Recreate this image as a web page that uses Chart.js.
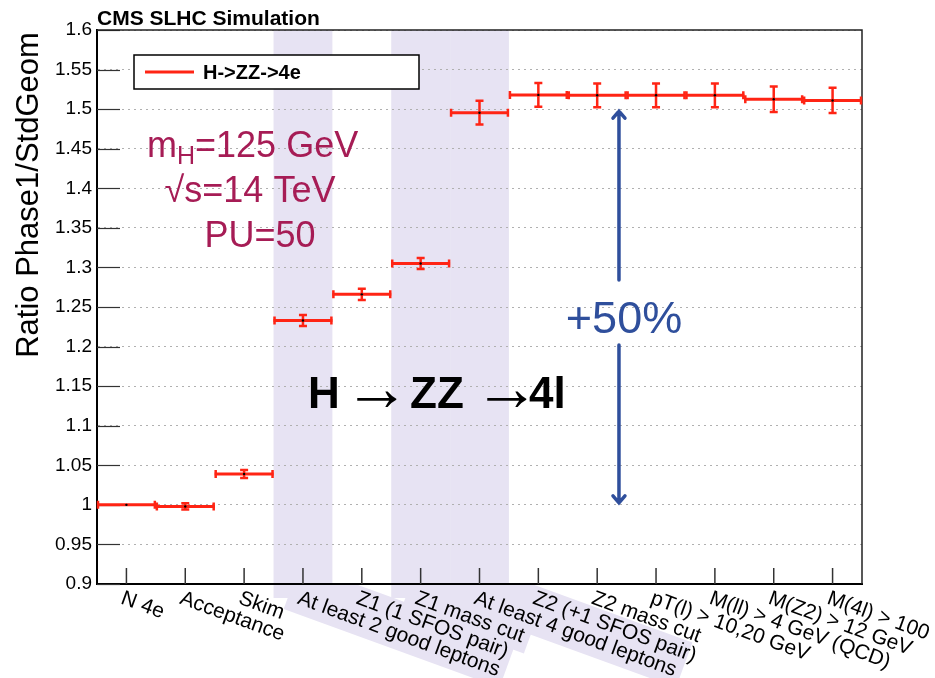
<!DOCTYPE html>
<html>
<head>
<meta charset="utf-8">
<script src="https://cdn.jsdelivr.net/npm/chart.js@4.4.0/dist/chart.umd.min.js"></script>
<style>
  html, body { margin: 0; padding: 0; background: #fff; }
  #wrap { width: 935px; height: 678px; position: relative; }
</style>
</head>
<body>
<div id="wrap"><canvas id="chartRatio"></canvas></div>
<script>
// cut-flow categories (x axis) and the Phase1/StdGeom ratio per cut
const categories = [
  'N 4e', 'Acceptance', 'Skim', 'At least 2 good leptons', 'Z1 (1 SFOS pair)',
  'Z1 mass cut', 'At least 4 good leptons', 'Z2 (+1 SFOS pair)', 'Z2 mass cut',
  'pT(l) > 10,20 GeV', 'M(ll) > 4 GeV (QCD)', 'M(Z2) > 12 GeV', 'M(4l) > 100'
];
const ratio    = [1.000, 0.998, 1.039, 1.233, 1.266, 1.305, 1.4955, 1.518, 1.5175, 1.5175, 1.5175, 1.5125, 1.511];
const ratioErr = [0.000, 0.004, 0.005, 0.007, 0.007, 0.007, 0.015,  0.015, 0.015,  0.015,  0.015,  0.016,  0.016];
const shadedBins = [3, 5, 6];
const arrowRange = [1.0, 1.5];

(function () {
  const red = '#ff2414';
  const band = '#e7e3f3';
  const font = '"Liberation Sans", Arial, Helvetica, sans-serif';
  const labelAngle = 20 * Math.PI / 180;

  function labelAnchor(xs, i, area) {
    return [xs.getPixelForValue(i + 0.5) - 1, area.bottom + 4];
  }

  const decor = {
    id: 'decor',
    beforeDraw(chart) {
      const { ctx, chartArea: a, scales: { x } } = chart;
      ctx.save();
      ctx.fillStyle = band;
      shadedBins.forEach(i => {
        const x0 = x.getPixelForValue(i), x1 = x.getPixelForValue(i + 1);
        ctx.fillRect(x0, a.top, x1 - x0, a.bottom - a.top + 14);
      });
      // highlight behind the shaded cut labels
      ctx.beginPath();
      ctx.rect(0, a.bottom, chart.width, chart.height - a.bottom);
      ctx.clip();
      ctx.font = '21px ' + font;
      shadedBins.forEach(i => {
        const [lx, ly] = labelAnchor(x, i, a);
        const w = ctx.measureText(categories[i]).width;
        ctx.save();
        ctx.translate(lx, ly);
        ctx.rotate(labelAngle);
        ctx.fillRect(-10, -22, w + 16, 48);
        ctx.restore();
      });
      ctx.restore();
    },
    beforeDatasetsDraw(chart) {
      const { ctx, chartArea: a, scales: { x, y } } = chart;
      ctx.save();
      // inner tick marks
      ctx.strokeStyle = '#333';
      ctx.lineWidth = 1.2;
      y.ticks.forEach(t => {
        const py = Math.round(y.getPixelForValue(t.value)) + 0.5;
        ctx.beginPath(); ctx.moveTo(a.left, py); ctx.lineTo(a.left + 23, py); ctx.stroke();
      });
      ctx.lineWidth = 1.5;
      categories.forEach((c, i) => {
        const px = x.getPixelForValue(i + 0.5);
        ctx.beginPath(); ctx.moveTo(px, a.bottom); ctx.lineTo(px, a.bottom - 16); ctx.stroke();
      });
      // frame top / right
      ctx.strokeStyle = '#222';
      ctx.lineWidth = 1.5;
      ctx.beginPath();
      ctx.moveTo(a.left, a.top); ctx.lineTo(a.right, a.top); ctx.lineTo(a.right, a.bottom);
      ctx.stroke();
      // error bars
      ctx.strokeStyle = red;
      ratio.forEach((v, i) => {
        const x0 = x.getPixelForValue(i), x1 = x.getPixelForValue(i + 1);
        const xc = x.getPixelForValue(i + 0.5), yc = y.getPixelForValue(v);
        ctx.lineWidth = 3;
        ctx.beginPath(); ctx.moveTo(x0, yc); ctx.lineTo(x1, yc); ctx.stroke();
        ctx.lineWidth = 2.5;
        ctx.beginPath();
        ctx.moveTo(x0 + 1, yc - 4); ctx.lineTo(x0 + 1, yc + 4);
        ctx.moveTo(x1 - 1, yc - 4); ctx.lineTo(x1 - 1, yc + 4);
        ctx.stroke();
        if (ratioErr[i] > 0) {
          const yl = y.getPixelForValue(v - ratioErr[i]), yh = y.getPixelForValue(v + ratioErr[i]);
          ctx.beginPath();
          ctx.moveTo(xc, yl); ctx.lineTo(xc, yh);
          ctx.moveTo(xc - 4, yl); ctx.lineTo(xc + 4, yl);
          ctx.moveTo(xc - 4, yh); ctx.lineTo(xc + 4, yh);
          ctx.stroke();
        }
      });
      ctx.restore();
    },
    afterDraw(chart) {
      const { ctx, chartArea: a, scales: { x, y } } = chart;
      ctx.save();
      // x labels, rotated downwards
      ctx.fillStyle = '#000';
      ctx.font = '21px ' + font;
      ctx.textAlign = 'left';
      ctx.textBaseline = 'top';
      categories.forEach((c, i) => {
        const [lx, ly] = labelAnchor(x, i, a);
        ctx.save();
        ctx.translate(lx, ly);
        ctx.rotate(labelAngle);
        ctx.fillText(c, 0, 0);
        ctx.restore();
      });

      // y title
      ctx.save();
      ctx.translate(38, 195);
      ctx.rotate(-Math.PI / 2);
      ctx.textAlign = 'center';
      ctx.textBaseline = 'alphabetic';
      ctx.font = '31px ' + font;
      ctx.fillText('Ratio Phase1/StdGeom', 0, 0);
      ctx.restore();

      // header
      ctx.textBaseline = 'alphabetic';
      ctx.font = 'bold 21px ' + font;
      ctx.fillText('CMS SLHC Simulation', 97, 25);

      // legend
      ctx.fillStyle = '#fff';
      ctx.fillRect(134, 55, 285, 34);
      ctx.strokeStyle = '#000';
      ctx.lineWidth = 1.5;
      ctx.strokeRect(134, 55, 285, 34);
      ctx.strokeStyle = red;
      ctx.lineWidth = 3;
      ctx.beginPath(); ctx.moveTo(145, 72); ctx.lineTo(194, 72); ctx.stroke();
      ctx.fillStyle = '#000';
      ctx.font = 'bold 20px ' + font;
      ctx.textBaseline = 'middle';
      ctx.fillText('H->ZZ->4e', 203, 73);

      // physics annotation
      ctx.textBaseline = 'alphabetic';
      ctx.fillStyle = '#a61c55';
      ctx.font = '36px ' + font;
      ctx.textAlign = 'left';
      const mW = ctx.measureText('m').width;
      ctx.fillText('m', 147, 157);
      ctx.font = '25px ' + font;
      const hW = ctx.measureText('H').width;
      ctx.fillText('H', 147 + mW, 164);
      ctx.font = '36px ' + font;
      ctx.fillText('=125 GeV', 147 + mW + hW, 157);
      ctx.textAlign = 'center';
      ctx.fillText('\u221As=14 TeV', 250, 202);
      ctx.fillText('PU=50', 260, 247);

      // H -> ZZ -> 4l
      ctx.fillStyle = '#000';
      ctx.textAlign = 'left';
      ctx.font = 'bold 44px ' + font;
      ctx.fillText('H', 308, 408);
      ctx.fillText('ZZ', 410, 408);
      ctx.fillText('4l', 529, 408);
      ctx.font = '66px ' + font;
      ctx.textAlign = 'center';
      ctx.fillText('\u2192', 377, 410);
      ctx.fillText('\u2192', 507, 410);

      // +50% arrow
      const blue = '#2f4f9c';
      const ax = x.getPixelForValue(8.87);
      const yTop = y.getPixelForValue(arrowRange[1]);
      const yBot = y.getPixelForValue(arrowRange[0]);
      ctx.strokeStyle = blue;
      ctx.lineWidth = 3.5;
      ctx.lineCap = 'round';
      ctx.beginPath();
      ctx.moveTo(ax, yTop + 2); ctx.lineTo(ax, 280);
      ctx.moveTo(ax, 345); ctx.lineTo(ax, yBot - 2);
      ctx.moveTo(ax - 6, yTop + 9); ctx.lineTo(ax, yTop + 2); ctx.lineTo(ax + 6, yTop + 9);
      ctx.moveTo(ax - 6, yBot - 9); ctx.lineTo(ax, yBot - 2); ctx.lineTo(ax + 6, yBot - 9);
      ctx.stroke();
      ctx.fillStyle = blue;
      ctx.font = '45px ' + font;
      ctx.textAlign = 'center';
      ctx.fillText('+50%', 624, 333);
      ctx.restore();
    }
  };

  new Chart(document.getElementById('chartRatio'), {
    type: 'scatter',
    data: {
      datasets: [{
        label: 'H->ZZ->4e',
        data: ratio.map((v, i) => ({ x: i + 0.5, y: v })),
        pointRadius: 1.2,
        pointBackgroundColor: '#000',
        pointBorderWidth: 0,
        showLine: false,
      }],
    },
    options: {
      responsive: true,
      maintainAspectRatio: false,
      animation: false,
      events: [],
      layout: { padding: { top: 30, right: 73, bottom: 0, left: 0 } },
      plugins: { legend: { display: false }, tooltip: { enabled: false } },
      scales: {
        x: {
          type: 'linear', min: 0, max: categories.length,
          ticks: { display: false },
          grid: { display: false },
          border: { display: true, color: '#000', width: 2 },
          afterFit(s) { s.height = 94; },
        },
        y: {
          min: 0.9, max: 1.6,
          ticks: {
            stepSize: 0.05,
            padding: 5,
            color: '#000',
            font: { family: font, size: 19 },
            callback: v => String(Math.round(v * 100) / 100),
          },
          grid: { color: '#b0b0b0', lineWidth: 1, drawTicks: false },
          border: { display: true, color: '#000', width: 2, dash: [2, 4] },
          afterFit(s) { s.width = 97; },
        },
      },
    },
    plugins: [decor],
  });
})();
</script>
</body>
</html>
